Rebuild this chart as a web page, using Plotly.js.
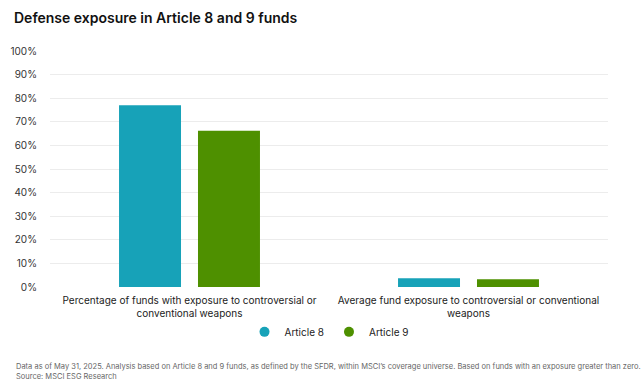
<!DOCTYPE html>
<html>
<head>
<meta charset="utf-8">
<script src="https://cdn.plot.ly/plotly-3.0.1.min.js"></script>
<style>html,body{margin:0;padding:0;background:#fff;}#chart{width:642px;height:389px;}</style>
</head>
<body>
<div id="chart"></div>
<script>
const categories = [
  "Percentage of funds with exposure to controversial or<br>conventional weapons",
  "Average fund exposure to controversial or conventional<br>weapons"
];
const seriesNames = ["Article 8", "Article 9"];
const article8 = [77, 3.7];
const article9 = [66.2, 3.3];
const colors = ["#17a2b8", "#4e9000"];
const yTickVals = [0, 10, 20, 30, 40, 50, 60, 70, 80, 90, 100];
const yTickText = yTickVals.map(v => v + "%");
const titleText = "Defense exposure in Article 8 and 9 funds";
const footnote = "Data as of May 31, 2025. Analysis based on Article 8 and 9 funds, as defined by the SFDR, within MSCI\u2019s coverage universe. Based on funds with an exposure greater than zero.<br>Source: MSCI ESG Research";

const seriesValues = [article8, article9];
const traces = [];
seriesNames.forEach((name, i) => {
  traces.push({
    type: "bar", x: categories, y: seriesValues[i], name: name,
    marker: {color: colors[i]}, showlegend: false, hoverinfo: "y"
  });
});
seriesNames.forEach((name, i) => {
  traces.push({
    type: "scatter", mode: "markers", x: [null], y: [null], name: name,
    marker: {color: colors[i], size: 10, symbol: "circle"}, showlegend: true
  });
});

const font = "Inter, 'Open Sans', sans-serif";
const layout = {
  width: 642, height: 389,
  margin: {l: 50, r: 34, t: 51, b: 102},
  paper_bgcolor: "#fff", plot_bgcolor: "#fff",
  font: {family: font, color: "#333", size: 10},
  title: {text: titleText, x: 14 / 642, xanchor: "left", xref: "container", y: 1 - 18 / 389, yanchor: "middle", yref: "container",
    font: {family: font, size: 14, color: "#111", weight: 600}},
  barmode: "group", bargap: 0.434, bargroupgap: 0.215,
  xaxis: {type: "category", range: [-0.5, 1.5], showgrid: false, zeroline: false, showline: false,
    tickangle: 0, ticks: "outside", ticklen: 4, tickcolor: "rgba(0,0,0,0)", tickfont: {size: 10, color: "#222"}},
  yaxis: {range: [0, 100], tickvals: yTickVals, ticktext: yTickText, showgrid: true, gridcolor: "#ececec",
    zeroline: false, showline: false, ticks: "outside", ticklen: 10, tickcolor: "rgba(0,0,0,0)",
    tickfont: {size: 10, color: "#333"}, fixedrange: true},
  legend: {orientation: "h", x: 0.5, xanchor: "center", y: -0.19, yanchor: "middle",
    font: {size: 10, color: "#222"}, itemwidth: 30},
  annotations: [{
    text: footnote, xref: "paper", yref: "paper", x: -0.065, y: -0.31, xanchor: "left", yanchor: "top",
    align: "left", showarrow: false, font: {size: 7.5, color: "#666"}
  }]
};
Plotly.newPlot("chart", traces, layout, {displayModeBar: false, staticPlot: true});
</script>
</body>
</html>
